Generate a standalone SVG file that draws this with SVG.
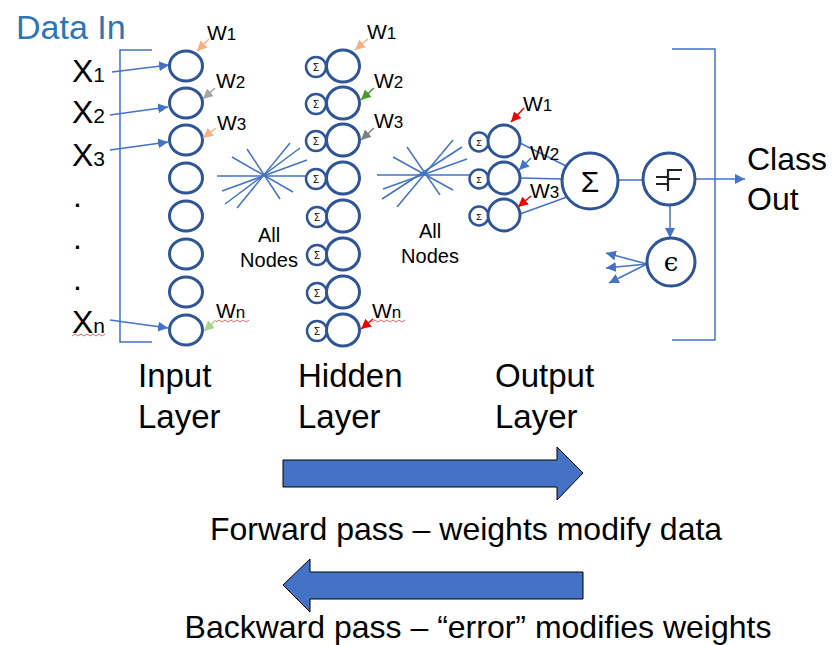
<svg xmlns="http://www.w3.org/2000/svg" width="836" height="645" viewBox="0 0 836 645">
<style>
.t{font-family:"Liberation Sans",Arial,sans-serif;fill:#000}
.node{fill:#fff;stroke:#2F5597;stroke-width:3}
.sm{fill:#fff;stroke:#2F5597;stroke-width:2.5}
.c{stroke:#4472C4;stroke-width:1.5;fill:none}
.w{stroke-width:1.5;fill:none}
.sq{stroke:#E06666;stroke-width:1;fill:none}
.sig{font-family:"Liberation Sans",Arial,sans-serif;fill:#000;text-anchor:middle}
</style>
<defs>
<marker id="mb" viewBox="0 0 10 10" refX="10" refY="5" markerWidth="10" markerHeight="10" markerUnits="userSpaceOnUse" orient="auto"><path d="M0,0L10,5L0,10z" fill="#4472C4"/></marker>
<marker id="mo" viewBox="0 0 10 10" refX="10" refY="5" markerWidth="10" markerHeight="10" markerUnits="userSpaceOnUse" orient="auto"><path d="M0,0L10,5L0,10z" fill="#F4B183"/></marker>
<marker id="mg" viewBox="0 0 10 10" refX="10" refY="5" markerWidth="10" markerHeight="10" markerUnits="userSpaceOnUse" orient="auto"><path d="M0,0L10,5L0,10z" fill="#A6A6A6"/></marker>
<marker id="mdg" viewBox="0 0 10 10" refX="10" refY="5" markerWidth="10" markerHeight="10" markerUnits="userSpaceOnUse" orient="auto"><path d="M0,0L10,5L0,10z" fill="#7F7F7F"/></marker>
<marker id="mlg" viewBox="0 0 10 10" refX="10" refY="5" markerWidth="10" markerHeight="10" markerUnits="userSpaceOnUse" orient="auto"><path d="M0,0L10,5L0,10z" fill="#A9D18E"/></marker>
<marker id="mgr" viewBox="0 0 10 10" refX="10" refY="5" markerWidth="10" markerHeight="10" markerUnits="userSpaceOnUse" orient="auto"><path d="M0,0L10,5L0,10z" fill="#4E9A2E"/></marker>
<marker id="mr" viewBox="0 0 10 10" refX="10" refY="5" markerWidth="10" markerHeight="10" markerUnits="userSpaceOnUse" orient="auto"><path d="M0,0L10,5L0,10z" fill="#F00000"/></marker>
</defs>
<rect width="836" height="645" fill="#fff"/>

<text class="t" x="16" y="39" font-size="34" style="fill:#2E75B6">Data In</text>

<g id="inputs">
<text class="t" x="72" y="82" font-size="32">X<tspan font-size="21">1</tspan></text>
<text class="t" x="72" y="123" font-size="32">X<tspan font-size="21">2</tspan></text>
<text class="t" x="72" y="166" font-size="32">X<tspan font-size="21">3</tspan></text>
<text class="t" x="73" y="207" font-size="32">.</text>
<text class="t" x="73" y="249" font-size="32">.</text>
<text class="t" x="73" y="290" font-size="32">.</text>
<text class="t" x="72" y="333" font-size="32">X<tspan font-size="21">n</tspan></text>
<path class="sq" d="M72,336 l3,-2 l3,2 l3,-2 l3,2 l3,-2 l3,2 l3,-2 l3,2 l3,-2 l3,2 l3,-2"/>
</g>

<g id="connectors">
<path class="c" d="M152,50H120V342H152"/>
<path class="c" d="M672,49H715V340H672"/>
<line class="c" x1="112" y1="72" x2="169" y2="65" marker-end="url(#mb)"/>
<line class="c" x1="110" y1="115" x2="168" y2="107" marker-end="url(#mb)"/>
<line class="c" x1="110" y1="150" x2="168" y2="142" marker-end="url(#mb)"/>
<line class="c" x1="110" y1="320" x2="168" y2="328" marker-end="url(#mb)"/>
<line class="c" x1="217" y1="176" x2="308" y2="176"/>
<line class="c" x1="232" y1="157" x2="293" y2="192"/>
<line class="c" x1="247" y1="149" x2="280" y2="199"/>
<line class="c" x1="290" y1="143" x2="237" y2="208"/>
<line class="c" x1="300" y1="148" x2="225" y2="204"/>
<line class="c" x1="307" y1="160" x2="222" y2="191"/>
<line class="c" x1="377" y1="175" x2="470" y2="175"/>
<line class="c" x1="407" y1="147" x2="440" y2="195"/>
<line class="c" x1="393" y1="157" x2="453" y2="190"/>
<line class="c" x1="453" y1="140" x2="397" y2="207"/>
<line class="c" x1="462" y1="147" x2="382" y2="199"/>
<line class="c" x1="467" y1="159" x2="383" y2="189"/>
<line class="c" x1="520" y1="143" x2="566" y2="166"/>
<line class="c" x1="520" y1="178" x2="562" y2="179"/>
<line class="c" x1="520" y1="214" x2="567" y2="197"/>
<line class="c" x1="618" y1="180" x2="643" y2="180"/>
<line class="c" x1="695" y1="179" x2="745" y2="179" marker-end="url(#mb)"/>
<line class="c" x1="670" y1="205" x2="670" y2="238" marker-end="url(#mb)"/>
<line class="c" x1="647" y1="264" x2="606" y2="253" marker-end="url(#mb)"/>
<line class="c" x1="647" y1="264" x2="606" y2="268" marker-end="url(#mb)"/>
<line class="c" x1="647" y1="264" x2="609" y2="283" marker-end="url(#mb)"/>
</g>

<g id="input-layer">
<ellipse class="node" cx="186" cy="66" rx="16.5" ry="15"/>
<ellipse class="node" cx="186" cy="103" rx="16.5" ry="15"/>
<ellipse class="node" cx="186" cy="140" rx="16.5" ry="15"/>
<ellipse class="node" cx="186" cy="178" rx="16.5" ry="15"/>
<ellipse class="node" cx="186" cy="216" rx="16.5" ry="15"/>
<ellipse class="node" cx="186" cy="254" rx="16.5" ry="15"/>
<ellipse class="node" cx="186" cy="292" rx="16.5" ry="15"/>
<ellipse class="node" cx="186" cy="330" rx="16.5" ry="15"/>
<line class="w" stroke="#F4B183" x1="209" y1="39" x2="197" y2="51" marker-end="url(#mo)"/>
<line class="w" stroke="#A6A6A6" x1="215" y1="88" x2="203" y2="99" marker-end="url(#mg)"/>
<line class="w" stroke="#F4B183" x1="216" y1="128" x2="203" y2="138" marker-end="url(#mo)"/>
<line class="w" stroke="#A9D18E" x1="216" y1="320" x2="204" y2="331" marker-end="url(#mlg)"/>
<text class="t" x="207" y="40" font-size="21">W<tspan font-size="17">1</tspan></text>
<text class="t" x="216" y="88" font-size="21">W<tspan font-size="17">2</tspan></text>
<text class="t" x="217" y="130" font-size="21">W<tspan font-size="17">3</tspan></text>
<text class="t" x="216" y="318" font-size="21">W<tspan font-size="17">n</tspan></text>
<path class="sq" d="M216,322 l3,-2 l3,2 l3,-2 l3,2 l3,-2 l3,2 l3,-2 l3,2 l3,-2 l3,2 l3,-2"/>
</g>

<g id="hidden-layer">
<circle class="sm" cx="316" cy="67" r="10"/><text class="sig" x="316" y="71" font-size="10">Σ</text><ellipse class="node" cx="343" cy="66" rx="16.5" ry="16"/>
<circle class="sm" cx="316" cy="104" r="10"/><text class="sig" x="316" y="108" font-size="10">Σ</text><ellipse class="node" cx="343" cy="103" rx="16.5" ry="16"/>
<circle class="sm" cx="316" cy="141" r="10"/><text class="sig" x="316" y="145" font-size="10">Σ</text><ellipse class="node" cx="343" cy="140" rx="16.5" ry="16"/>
<circle class="sm" cx="316" cy="179" r="10"/><text class="sig" x="316" y="183" font-size="10">Σ</text><ellipse class="node" cx="343" cy="178" rx="16.5" ry="16"/>
<circle class="sm" cx="317" cy="217" r="10"/><text class="sig" x="317" y="221" font-size="10">Σ</text><ellipse class="node" cx="343" cy="216" rx="16.5" ry="16"/>
<circle class="sm" cx="317" cy="255" r="10"/><text class="sig" x="317" y="259" font-size="10">Σ</text><ellipse class="node" cx="343" cy="254" rx="16.5" ry="16"/>
<circle class="sm" cx="317" cy="293" r="10"/><text class="sig" x="317" y="297" font-size="10">Σ</text><ellipse class="node" cx="343" cy="292" rx="16.5" ry="16"/>
<circle class="sm" cx="317" cy="331" r="10"/><text class="sig" x="317" y="335" font-size="10">Σ</text><ellipse class="node" cx="343" cy="330" rx="16.5" ry="16"/>
<line class="w" stroke="#F4B183" x1="368" y1="39" x2="355" y2="50" marker-end="url(#mo)"/>
<line class="w" stroke="#4E9A2E" x1="374" y1="88" x2="361" y2="100" marker-end="url(#mgr)"/>
<line class="w" stroke="#7F7F7F" x1="374" y1="128" x2="361" y2="140" marker-end="url(#mdg)"/>
<line class="w" stroke="#F00000" x1="373" y1="319" x2="361" y2="329" marker-end="url(#mr)"/>
<text class="t" x="367" y="39" font-size="21">W<tspan font-size="17">1</tspan></text>
<text class="t" x="374" y="88" font-size="21">W<tspan font-size="17">2</tspan></text>
<text class="t" x="374" y="128" font-size="21">W<tspan font-size="17">3</tspan></text>
<text class="t" x="372" y="318" font-size="21">W<tspan font-size="17">n</tspan></text>
<path class="sq" d="M372,322 l3,-2 l3,2 l3,-2 l3,2 l3,-2 l3,2 l3,-2 l3,2 l3,-2 l3,2 l3,-2"/>
</g>

<g id="all-nodes-labels">
<text class="t" x="269" y="242" font-size="20" text-anchor="middle">All</text>
<text class="t" x="269" y="267" font-size="20" text-anchor="middle">Nodes</text>
<text class="t" x="430" y="238" font-size="20" text-anchor="middle">All</text>
<text class="t" x="430" y="263" font-size="20" text-anchor="middle">Nodes</text>
</g>

<g id="output-layer">
<circle class="sm" cx="479" cy="142" r="9.5"/><text class="sig" x="479" y="146" font-size="9">Σ</text><circle class="node" cx="504" cy="141" r="16"/>
<circle class="sm" cx="479" cy="179" r="9.5"/><text class="sig" x="479" y="183" font-size="9">Σ</text><circle class="node" cx="504" cy="178" r="16"/>
<circle class="sm" cx="479" cy="216" r="9.5"/><text class="sig" x="479" y="220" font-size="9">Σ</text><circle class="node" cx="504" cy="215" r="16"/>
<line class="w" stroke="#F00000" x1="524" y1="108" x2="511" y2="122" marker-end="url(#mr)"/>
<line class="w" stroke="#4472C4" x1="531" y1="158" x2="519" y2="170" marker-end="url(#mb)"/>
<line class="w" stroke="#F00000" x1="531" y1="196" x2="518" y2="207" marker-end="url(#mr)"/>
<text class="t" x="523" y="111" font-size="21">W<tspan font-size="17">1</tspan></text>
<text class="t" x="530" y="160" font-size="21">W<tspan font-size="17">2</tspan></text>
<text class="t" x="530" y="198" font-size="21">W<tspan font-size="17">3</tspan></text>
</g>

<g id="sum-node">
<circle class="node" cx="590" cy="181" r="28"/>
<text class="sig" x="590" y="192" font-size="30">Σ</text>
</g>

<g id="threshold-node">
<circle class="node" cx="669" cy="179" r="26"/>
<path d="M668,169V191M668,170H682M668,179H680M656,177H668M656,184H668" stroke="#222" stroke-width="2.2" fill="none"/>
</g>

<g id="error-node">
<circle class="node" cx="671" cy="262" r="24"/>
<text x="671" y="271" font-size="26" text-anchor="middle" style="font-family:'DejaVu Serif','DejaVu Sans',serif;fill:#000">ϵ</text>
</g>

<g id="class-out">
<text class="t" x="747" y="170" font-size="32">Class</text>
<text class="t" x="747" y="210" font-size="32">Out</text>
</g>

<g id="layer-labels">
<text class="t" x="138" y="387" font-size="33">Input</text>
<text class="t" x="138" y="428" font-size="33">Layer</text>
<text class="t" x="298" y="387" font-size="33">Hidden</text>
<text class="t" x="298" y="428" font-size="33">Layer</text>
<text class="t" x="495" y="387" font-size="33">Output</text>
<text class="t" x="495" y="428" font-size="33">Layer</text>
</g>

<g id="forward-pass">
<path d="M283,460H557V447L583,473L557,500V487H283Z" fill="#4472C4" stroke="#000" stroke-width="1"/>
<text class="t" x="466" y="540" font-size="32" text-anchor="middle">Forward pass – weights modify data</text>
</g>

<g id="backward-pass">
<path d="M583,572H310V559L283,585L310,612V599H583Z" fill="#4472C4" stroke="#000" stroke-width="1"/>
<text class="t" x="478" y="638" font-size="32" text-anchor="middle">Backward pass – “error” modifies weights</text>
</g>
</svg>
